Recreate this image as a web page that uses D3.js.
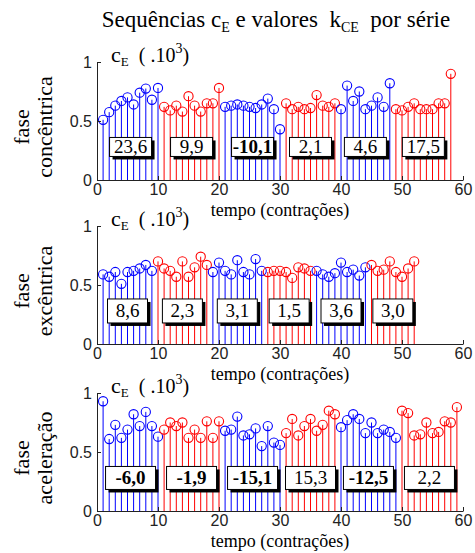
<!DOCTYPE html>
<html>
<head>
<meta charset="utf-8">
<script src="https://cdn.jsdelivr.net/npm/d3@7"></script>
<style>
  body { margin: 0; background: #fff; }
  svg { display: block; }
</style>
</head>
<body>
<div id="chart"></div>
<script>
// ---- data ----
const xTicks = [0, 10, 20, 30, 40, 50, 60];
const yTicks = [0, 0.5, 1];
const seriesColors = ["#0000ff", "#ff0000"];

// concentric phase
const concStart = [1, 11, 21, 31, 40, 49];
const concS1 = [0.51, 0.575, 0.63, 0.67, 0.70, 0.64, 0.74, 0.775, 0.68, 0.78];
const concS2 = [0.62, 0.59, 0.63, 0.58, 0.71, 0.63, 0.58, 0.65, 0.65, 0.78];
const concS3 = [0.62, 0.63, 0.64, 0.63, 0.62, 0.61, 0.64, 0.69, 0.60, 0.43];
const concS4 = [0.65, 0.60, 0.62, 0.60, 0.61, 0.72, 0.63, 0.62, 0.65];
const concS5 = [0.60, 0.80, 0.67, 0.75, 0.60, 0.63, 0.70, 0.62, 0.82];
const concS6 = [0.60, 0.59, 0.62, 0.65, 0.60, 0.60, 0.60, 0.65, 0.65, 0.90];
const concK = ["23,6", "9,9", "-10,1", "2,1", "4,6", "17,5"];

// eccentric phase
const excStart = [1, 10, 19, 28, 36, 45];
const excS1 = [0.59, 0.57, 0.61, 0.51, 0.61, 0.62, 0.64, 0.67, 0.62];
const excS2 = [0.70, 0.64, 0.62, 0.57, 0.70, 0.57, 0.65, 0.74, 0.67];
const excS3 = [0.61, 0.69, 0.62, 0.59, 0.71, 0.61, 0.59, 0.72, 0.62];
const excS4 = [0.61, 0.62, 0.62, 0.61, 0.56, 0.65, 0.64, 0.62];
const excS5 = [0.62, 0.59, 0.57, 0.60, 0.69, 0.61, 0.63, 0.58, 0.65];
const excS6 = [0.67, 0.62, 0.63, 0.70, 0.61, 0.57, 0.64, 0.70];
const excK = ["8,6", "2,3", "3,1", "1,5", "3,6", "3,0"];

// acceleration phase
const acelStart = [1, 11, 21, 31, 40, 50];
const acelS1 = [0.93, 0.61, 0.73, 0.62, 0.69, 0.82, 0.72, 0.84, 0.72, 0.63];
const acelS2 = [0.69, 0.75, 0.72, 0.75, 0.62, 0.69, 0.62, 0.76, 0.62, 0.76];
const acelS3 = [0.68, 0.69, 0.80, 0.64, 0.65, 0.70, 0.55, 0.72, 0.58, 0.56];
const acelS4 = [0.66, 0.78, 0.64, 0.72, 0.78, 0.68, 0.73, 0.85, 0.82];
const acelS5 = [0.71, 0.77, 0.82, 0.78, 0.66, 0.75, 0.66, 0.69, 0.67, 0.62];
const acelS6 = [0.85, 0.83, 0.64, 0.65, 0.75, 0.66, 0.67, 0.76, 0.75, 0.88];
const acelK = ["-6,0", "-1,9", "-15,1", "15,3", "-12,5", "2,2"];

const panels = [
  { label: ["fase", "concêntrica"], start: concStart,
    series: [concS1, concS2, concS3, concS4, concS5, concS6], k: concK },
  { label: ["fase", "excêntrica"], start: excStart,
    series: [excS1, excS2, excS3, excS4, excS5, excS6], k: excK },
  { label: ["fase", "aceleração"], start: acelStart,
    series: [acelS1, acelS2, acelS3, acelS4, acelS5, acelS6], k: acelK }
];

// ---- layout ----
const W = 475, H = 553;
const plotLeft = 97, plotRight = 463;
const plotTops = [62, 226, 393];
const plotH = 118;
const boxSize = [[42, 19], [40, 24], [50, 23]];
const serif = "'Liberation Serif', 'Times New Roman', serif";
const sans = "'Liberation Sans', Arial, sans-serif";

const svg = d3.select("#chart").append("svg")
  .attr("width", W).attr("height", H);

// title
const title = svg.append("text")
  .attr("x", 276).attr("y", 27)
  .attr("text-anchor", "middle")
  .attr("xml:space", "preserve")
  .style("white-space", "pre")
  .style("font-family", serif).style("font-size", "23px");
title.append("tspan").text("Sequências c");
title.append("tspan").attr("dy", 5).style("font-size", "14px").text("E");
title.append("tspan").attr("dy", -5).text(" e valores  k");
title.append("tspan").attr("dy", 5).style("font-size", "14px").text("CE");
title.append("tspan").attr("dy", -5).text("  por série");

const x = d3.scaleLinear().domain([0, 60]).range([plotLeft, plotRight]);

panels.forEach((p, pi) => {
  const top = plotTops[pi];
  const y = d3.scaleLinear().domain([0, 1]).range([top + plotH, top]);
  const g = svg.append("g").attr("class", "panel");

  // stems, one colour per series
  p.series.forEach((vals, si) => {
    const col = seriesColors[si % 2];
    const pts = vals.map((v, i) => ({ t: p.start[si] + i, v: v }));
    const sg = g.append("g");
    sg.selectAll("line").data(pts).enter().append("line")
      .attr("x1", d => x(d.t)).attr("x2", d => x(d.t))
      .attr("y1", y(0)).attr("y2", d => y(d.v))
      .attr("stroke", col).attr("stroke-width", 1);
    sg.selectAll("circle").data(pts).enter().append("circle")
      .attr("cx", d => x(d.t)).attr("cy", d => y(d.v))
      .attr("r", 4.6)
      .attr("fill", "none").attr("stroke", col).attr("stroke-width", 1.1);
  });

  // axes
  const xAxis = g.append("g")
    .attr("transform", `translate(0,${y(0)})`)
    .call(d3.axisBottom(x).tickValues(xTicks).tickSize(-4).tickSizeOuter(0).tickPadding(4));
  const yAxis = g.append("g")
    .attr("transform", `translate(${plotLeft},0)`)
    .call(d3.axisLeft(y).tickValues(yTicks).tickSize(-4).tickSizeOuter(0).tickPadding(5)
      .tickFormat(d3.format("")));
  [xAxis, yAxis].forEach(a => {
    a.selectAll("path, line").attr("stroke", "#222");
    a.selectAll("text").style("font-family", sans).style("font-size", "16px").attr("fill", "#222");
  });

  // k_CE boxes
  const [bw, bh] = boxSize[pi];
  p.k.forEach((k, si) => {
    const first = p.start[si];
    const last = first + p.series[si].length - 1;
    const cx = x((first + last) / 2);
    const cy = y(0.28);
    const bg = g.append("g");
    bg.append("rect")
      .attr("x", cx - bw / 2 + 3).attr("y", cy - bh / 2 + 3)
      .attr("width", bw).attr("height", bh).attr("fill", "#000");
    bg.append("rect")
      .attr("x", cx - bw / 2).attr("y", cy - bh / 2)
      .attr("width", bw).attr("height", bh)
      .attr("fill", "#fff").attr("stroke", "#000").attr("stroke-width", 1);
    bg.append("text")
      .attr("x", cx).attr("y", cy + 6.5)
      .attr("text-anchor", "middle")
      .style("font-family", serif).style("font-size", "19px")
      .style("font-weight", k.startsWith("-") ? "bold" : "normal")
      .text(k);
  });

  // c_E (.10^3) label
  const cl = g.append("text")
    .attr("x", 111).attr("y", top)
    .attr("xml:space", "preserve")
    .style("white-space", "pre")
    .style("font-family", serif).style("font-size", "20px");
  cl.append("tspan").style("font-size", "22px").text("c");
  cl.append("tspan").attr("dy", 4).style("font-size", "13px").text("E");
  cl.append("tspan").attr("dy", -4).text("  ( .10");
  cl.append("tspan").attr("dy", -9).style("font-size", "14px").text("3");
  cl.append("tspan").attr("dy", 9).text(")");

  // x label
  g.append("text")
    .attr("x", x(30)).attr("y", y(0) + 36)
    .attr("text-anchor", "middle")
    .style("font-family", serif).style("font-size", "18px")
    .text("tempo (contrações)");

  // y label (two rotated lines)
  const midY = top + plotH / 2 + 6;
  p.label.forEach((line, li) => {
    g.append("text")
      .attr("transform", `translate(${29 + li * 23},${midY}) rotate(-90)`)
      .attr("text-anchor", "middle")
      .style("font-family", serif).style("font-size", "22px")
      .text(line);
  });
});
</script>
</body>
</html>
